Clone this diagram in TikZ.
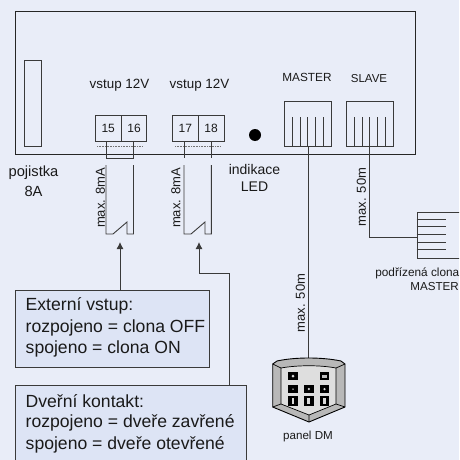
\documentclass[tikz,border=0pt]{standalone}
\usepackage{fontspec}
\setmainfont{Liberation Sans}
\usetikzlibrary{arrows.meta,calc}
\definecolor{bgc}{HTML}{E9EDF8}
\definecolor{boxc}{HTML}{DDE4F5}
\definecolor{inkc}{HTML}{1A1A1A}
\definecolor{wirec}{HTML}{3A3A3A}
\newcommand{\fs}[1]{\fontsize{#1}{#1}\selectfont}
\tikzset{
  x=1pt,y=-1pt,
  wire/.style={draw=wirec,line width=0.9pt},
  frameline/.style={draw=black!85,line width=1pt},
  term/.style={draw=wirec,line width=0.9pt,minimum width=25.8pt,minimum height=25.8pt,inner sep=0pt,font=\fs{12},text=inkc},
  lbl/.style={inner sep=0pt,text=inkc,align=center},
  vlbl/.style={inner sep=0pt,text=inkc,rotate=90,font=\fs{13}},
  note/.style={draw=wirec,fill=boxc,line width=0.9pt,inner sep=0pt,anchor=north west,text=inkc},
  notetxt/.style={inner sep=0pt,anchor=west,text=inkc,font=\fs{17.6}},
  jack/.style={draw=wirec,line width=0.9pt,inner sep=0pt,minimum width=47.4pt,minimum height=45pt},
  btn/.style={fill=black,inner sep=0pt,minimum width=9.5pt,minimum height=8pt,draw=none},
  tip/.style={-{Latex[length=7pt,width=7pt]}},
}
\begin{document}
\begin{tikzpicture}
\useasboundingbox (0,0) rectangle (459,460);
\clip (0,0) rectangle (459,460);
\fill[bgc] (0,0) rectangle (459,460);
% unit
\node[frameline,inner sep=0pt,minimum width=400pt,minimum height=142.5pt,anchor=north west] (unit) at (15,11) {};
\node[draw=wirec,line width=0.9pt,fill=bgc,inner sep=0pt,minimum width=17pt,minimum height=86pt,anchor=north west] (fuse) at (24,60) {};
\node[lbl,font=\fs{14.7}] (fuselbl) at (33.5,173) {pojistka};
\node[lbl,font=\fs{14.7}] (fuselbl2) at (33.5,191) {8A};
\node[lbl,font=\fs{13.4}] (v1) at (119.5,85) {vstup 12V};
\node[lbl,font=\fs{13.4}] (v2) at (199.5,85) {vstup 12V};
% terminals
\node[term] (t15) at (108.2,128.6) {15};
\node[term] (t16) at (134,128.6) {16};
\node[term] (t17) at (185.3,128.6) {17};
\node[term] (t18) at (211.1,128.6) {18};
\coordinate (d1a) at (97,146); \coordinate (d1b) at (142,146);
\coordinate (d2a) at (175,146); \coordinate (d2b) at (220,146);
\draw[draw=black!55,line width=0.9pt,dash pattern=on 1pt off 0.6pt] (d1a) -- (d1b);
\draw[draw=black!55,line width=0.9pt,dash pattern=on 1pt off 0.6pt] (d2a) -- (d2b);
% bridge and stubs
\coordinate (w15) at (106,141.5); \coordinate (w16) at (133.5,141.5);
\coordinate (w17) at (184,141.5); \coordinate (w18) at (211.3,141.5);
\draw[wire] (w15) -- (106,158) -- (133.5,158) -- (w16);
\draw[wire] (w17) -- (184,158);
\draw[wire] (w18) -- (211.3,158);
% switches
\coordinate (s1) at (106,165); \coordinate (s1e) at (133.5,165);
\coordinate (s2) at (184,165); \coordinate (s2e) at (211.3,165);
\draw[wire] (s1) -- (106,234) -- (113,234) -- (127,222) -- (127,234) -- (133.5,234) -- (s1e);
\draw[wire] (s2) -- (184,234) -- (191,234) -- (205,222) -- (205,234) -- (211.3,234) -- (s2e);
\node[vlbl] (m1) at (100.3,198) {max. 8mA};
\node[vlbl] (m2) at (175.8,198) {max. 8mA};
% LED
\node[fill=black,circle,inner sep=0pt,minimum size=12pt] (led) at (255,135) {};
\node[lbl,font=\fs{14}] (ledl1) at (254.5,169) {indikace};
\node[lbl,font=\fs{14}] (ledl2) at (254.5,187) {LED};
% jacks
\node[lbl,font=\fs{11.8}] (ml) at (307,77.5) {MASTER};
\node[lbl,font=\fs{11.5}] (sl) at (369,78.5) {SLAVE};
\node[jack] (jm) at (308,123.5) {};
\node[jack] (js) at (370.2,123.5) {};
\foreach \i/\xx in {1/292,2/300,3/307.5,4/315,5/323}
  \draw[wire] (\xx,117) -- (\xx,146);
\foreach \i/\xx in {1/354,2/362,3/369.5,4/377,5/385}
  \draw[wire] (\xx,117) -- (\xx,146);
% slave connector
\node[draw=wirec,line width=0.9pt,inner sep=0pt,minimum width=60pt,minimum height=46.5pt,anchor=north west] (cn) at (416.5,211.5) {};
\foreach \yy in {219,226.5,234,242,249.5}
  \draw[wire] (416.5,\yy) -- (445.5,\yy);
\coordinate (sb) at (369,146);
\draw[wire] (sb) -- (369,237) -- (cn.west |- 0,237);
\node[vlbl] (m3) at (361.5,197) {max. 50m};
\node[lbl,font=\fs{11.8},anchor=east] (p1) at (459.5,273) {podřízená clona};
\node[lbl,font=\fs{11.6},anchor=east] (p2) at (459,287) {MASTER};
% panel
\coordinate (pt) at (308.7,146);
\coordinate (pw) at (308.7,358);
\draw[wire] (pt) -- (pw);
\node[vlbl] (m4) at (300.5,303) {max. 50m};
\draw[draw=black,line width=0.9pt,fill=black!28,line join=round]
  (272.7,364) -- (277,361) .. controls (295,357) and (322,357) .. (341,361) -- (345,364)
  -- (345,407) -- (309,422) -- (272.7,407) -- cycle;
\draw[draw=black,line width=0.7pt,fill=black!13,line join=round]
  (281,368) .. controls (298,365) and (320,365) .. (336,368) -- (336,404) -- (309,415) -- (281,404) -- cycle;
\draw[draw=black,line width=0.7pt] (272.7,364) -- (281,368) (345,364) -- (336,368) (272.7,407) -- (281,404) (345,407) -- (336,404) (309,415) -- (309,422);
\node[btn] (b1) at (293,376) {};
\node[btn] (b2) at (324.5,376) {};
\node[btn] (b3) at (293,389) {};
\node[btn] (b4) at (308.8,389) {};
\node[btn] (b5) at (324.5,389) {};
\node[btn,minimum height=9.5pt] (b6) at (293,401) {};
\node[btn,minimum height=9.5pt] (b7) at (308.8,401) {};
\node[btn,minimum height=9.5pt] (b8) at (324.5,401) {};
\node[fill=black!15,circle,inner sep=0pt,minimum size=3pt] (g1) at (293,376) {};
\node[fill=black!25,inner sep=0pt,minimum width=5pt,minimum height=3pt] (g2) at (324.5,376) {};
\node[fill=white,circle,inner sep=0pt,minimum size=1.5pt] (g3) at (293,389) {};
\node[fill=black!15,circle,inner sep=0pt,minimum size=2.5pt] (g4) at (308.8,389) {};
\node[fill=black!15,circle,inner sep=0pt,minimum size=2.5pt] (g5) at (324.5,389) {};
\node[fill=black!15,inner sep=0pt,minimum width=2pt,minimum height=6pt] (g6) at (293,401) {};
\node[fill=black!15,inner sep=0pt,minimum width=3pt,minimum height=6pt] (g7) at (308.8,401) {};
\node[fill=black!15,inner sep=0pt,minimum width=3pt,minimum height=6pt] (g8) at (324.5,401) {};
\node[lbl,font=\fs{11.6}] (pdm) at (308,436.5) {panel DM};
% notes
\node[note,minimum width=194pt,minimum height=77pt] (n1) at (15.3,290) {};
\node[notetxt] (n1a) at (25.5,306) {Externí vstup:};
\node[notetxt] (n1b) at (25.5,327.5) {rozpojeno = clona OFF};
\node[notetxt] (n1c) at (25.5,349) {spojeno = clona ON};
\node[note,minimum width=231pt,minimum height=90pt] (n2) at (15.3,385) {};
\node[notetxt] (n2a) at (25.5,401) {Dveřní kontakt:};
\node[notetxt] (n2b) at (25.5,423) {rozpojeno = dveře zavřené};
\node[notetxt] (n2c) at (25.5,445) {spojeno = dveře otevřené};
% arrows
\coordinate (a1) at (120,242);
\coordinate (a2) at (199,242);
\draw[wire,tip] (n1.north -| a1) -- (a1);
\draw[wire,tip] (229.7,385) -- (229.7,273.5) -- (199,273.5) -- (a2);
\end{tikzpicture}
\end{document}
